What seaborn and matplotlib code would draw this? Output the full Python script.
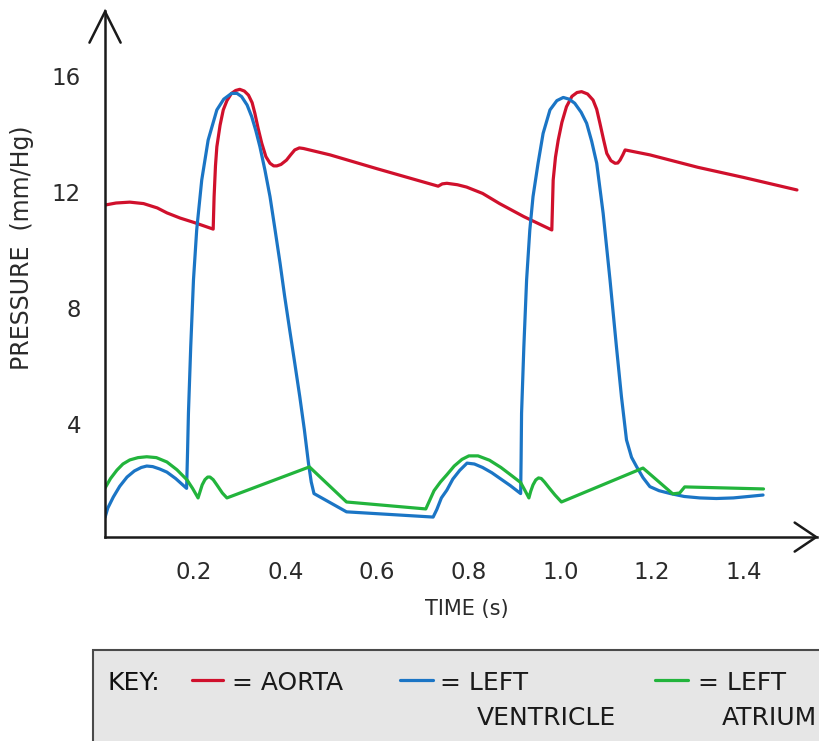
import matplotlib
matplotlib.use("Agg")
import matplotlib.pyplot as plt
import seaborn as sns
import pandas as pd
from matplotlib.patches import Rectangle
from matplotlib.lines import Line2D

# pressure curves (time in s, pressure in mm/Hg)
aorta_t = [0.006, 0.03, 0.06, 0.09, 0.12, 0.141, 0.17, 0.2, 0.242, 0.244, 0.247, 0.25,
           0.257, 0.264, 0.272, 0.282, 0.291, 0.3, 0.31, 0.319, 0.327, 0.333, 0.34, 0.348,
           0.357, 0.366, 0.374, 0.381, 0.39, 0.402, 0.411, 0.42, 0.43, 0.439, 0.497, 0.6,
           0.693, 0.733, 0.742, 0.752, 0.775, 0.795, 0.83, 0.867, 0.92, 0.981, 0.984,
           0.989, 0.995, 1.003, 1.013, 1.025, 1.036, 1.046, 1.059, 1.071, 1.079, 1.086,
           1.094, 1.101, 1.11, 1.119, 1.125, 1.13, 1.136, 1.141, 1.195, 1.3, 1.4, 1.516]
aorta_p = [11.55, 11.62, 11.65, 11.6, 11.45, 11.28, 11.1, 10.95, 10.72, 11.84, 12.9, 13.56,
           14.3, 14.83, 15.15, 15.4, 15.5, 15.54, 15.48, 15.34, 15.08, 14.71, 14.2, 13.68,
           13.22, 12.99, 12.9, 12.9, 12.95, 13.1, 13.28, 13.45, 13.52, 13.5, 13.28, 12.8,
           12.38, 12.2, 12.28, 12.3, 12.25, 12.17, 11.95, 11.6, 11.15, 10.69, 12.41,
           13.2, 13.79, 14.4, 14.94, 15.3, 15.43, 15.46, 15.38, 15.17, 14.85, 14.37,
           13.8, 13.33, 13.08, 12.99, 13.0, 13.1, 13.28, 13.45, 13.28, 12.85, 12.5, 12.07]

ventricle_t = [0.006, 0.012, 0.024, 0.038, 0.054, 0.07, 0.085, 0.097, 0.11, 0.125, 0.141,
               0.16, 0.184, 0.186, 0.188, 0.193, 0.199, 0.206, 0.217, 0.231, 0.25, 0.265,
               0.282, 0.294, 0.304, 0.316, 0.326, 0.335, 0.344, 0.355, 0.366, 0.377, 0.388,
               0.398, 0.409, 0.42, 0.431, 0.441, 0.45, 0.456, 0.462, 0.533, 0.722, 0.73,
               0.74, 0.752, 0.765, 0.78, 0.796, 0.812, 0.83, 0.85, 0.87, 0.89, 0.913, 0.914,
               0.915, 0.92, 0.926, 0.933, 0.94, 0.951, 0.962, 0.977, 0.992, 1.006, 1.019,
               1.031, 1.045, 1.057, 1.068, 1.079, 1.093, 1.108, 1.122, 1.133, 1.144, 1.155,
               1.166, 1.18, 1.195, 1.215, 1.24, 1.27, 1.304, 1.34, 1.377, 1.41, 1.442]
ventricle_p = [0.78, 1.1, 1.48, 1.85, 2.17, 2.38, 2.5, 2.55, 2.53, 2.45, 2.34,
               2.12, 1.78, 3.0, 4.37, 6.67, 8.97, 10.69, 12.41, 13.79, 14.83, 15.2,
               15.4, 15.4, 15.29, 15.0, 14.6, 14.12, 13.56, 12.75, 11.84, 10.7, 9.54,
               8.4, 7.24, 6.1, 4.94, 3.8, 2.64, 2.0, 1.6, 0.97, 0.79, 1.05,
               1.45, 1.72, 2.1, 2.4, 2.65, 2.62, 2.5, 2.32, 2.1, 1.88, 1.6, 2.8,
               4.37, 6.67, 8.97, 10.69, 11.84, 12.99, 14.02, 14.83, 15.15, 15.26, 15.2,
               15.06, 14.75, 14.37, 13.75, 12.99, 11.27, 8.97, 6.67, 4.94, 3.45, 2.85,
               2.53, 2.15, 1.84, 1.7, 1.6, 1.5, 1.45, 1.43, 1.45, 1.5, 1.55]

atrium_t = [0.006, 0.018, 0.032, 0.045, 0.06, 0.078, 0.097, 0.118, 0.141, 0.163, 0.185,
            0.197, 0.209, 0.213, 0.218, 0.224, 0.23, 0.235, 0.242, 0.25, 0.262, 0.272,
            0.452, 0.533, 0.706, 0.714, 0.724, 0.738, 0.752, 0.768, 0.785, 0.8, 0.82,
            0.845, 0.87, 0.895, 0.913, 0.922, 0.931, 0.935, 0.94, 0.946, 0.952, 0.958,
            0.965, 0.975, 0.988, 1.002, 1.18, 1.245, 1.26, 1.271, 1.443]
atrium_p = [1.79, 2.12, 2.41, 2.62, 2.76, 2.84, 2.87, 2.84, 2.69, 2.42, 2.07,
            1.78, 1.45, 1.65, 1.9, 2.08, 2.17, 2.17, 2.08, 1.9, 1.62, 1.45,
            2.52, 1.31, 1.07, 1.35, 1.7, 2.0, 2.25, 2.55, 2.78, 2.9, 2.9,
            2.75, 2.5, 2.2, 1.98, 1.72, 1.45, 1.68, 1.9, 2.07, 2.14, 2.12,
            2.0, 1.8, 1.55, 1.31, 2.48, 1.59, 1.62, 1.83, 1.76]

x_ticks = [0.2, 0.4, 0.6, 0.8, 1.0, 1.2, 1.4]
x_tick_labels = ["0.2", "0.4", "0.6", "0.8", "1.0", "1.2", "1.4"]
y_ticks = [4, 8, 12, 16]

RED = "#d0102c"
BLUE = "#1b75c5"
GREEN = "#22b43c"
INK = "#1a1a1a"

sns.set_style("white")
plt.rcParams["font.family"] = ["DejaVu Sans"]

fig = plt.figure(figsize=(8.19, 7.41), dpi=100)
ax = fig.add_axes([0.1277, 0.2752, 0.870, 0.7103])

for t, p, c in [(aorta_t, aorta_p, RED), (ventricle_t, ventricle_p, BLUE),
                (atrium_t, atrium_p, GREEN)]:
    df = pd.DataFrame({"time": t, "pressure": p})
    sns.lineplot(data=df, x="time", y="pressure", ax=ax, color=c, lw=2.3,
                 sort=False, estimator=None, solid_joinstyle="round")

ax.set_xlim(0.005, 1.56)
ax.set_ylim(0.1, 18.25)
ax.set_xticks(x_ticks)
ax.set_xticklabels(x_tick_labels)
ax.set_yticks(y_ticks)
ax.tick_params(axis="both", length=10, width=1.6, color=INK, labelsize=16.5,
               labelcolor="#2a2a2a", pad=7)

for s in ["top", "right"]:
    ax.spines[s].set_visible(False)
for s in ["left", "bottom"]:
    ax.spines[s].set_color(INK)
    ax.spines[s].set_linewidth(1.8)

# open arrow heads at the axis ends
ax.plot([-0.028, 0.006, 0.04], [17.15, 18.22, 17.15], color=INK, lw=1.8,
        clip_on=False, solid_capstyle="round", solid_joinstyle="miter")
ax.plot([1.511, 1.558, 1.511], [0.6, 0.1, -0.4], color=INK, lw=1.8,
        clip_on=False, solid_capstyle="round", solid_joinstyle="miter")

ax.set_xlabel("TIME (s)", fontsize=15, color="#2a2a2a", va="top")
ax.xaxis.set_label_coords(0.509, -0.118)
ax.set_ylabel("PRESSURE  (mm/Hg)", fontsize=17, color="#2a2a2a")
ax.yaxis.set_label_coords(-0.099, 0.549)

# key box along the bottom
fig.patches.append(Rectangle((93 / 819, -0.05), 1.0, 0.1228 + 0.05,
                             transform=fig.transFigure, facecolor="#e6e6e6",
                             edgecolor="#4a4a4a", lw=1.5))

def px(x, y):
    return x / 819, (741 - y) / 741

key_size = 18
fig.text(*px(107, 690), "KEY:", fontsize=key_size, color="#111111", va="baseline")
for x0, x1, c in [(192, 223, RED), (400, 433, BLUE), (655, 688, GREEN)]:
    (a, b), (a2, _) = px(x0, 680), px(x1, 680)
    fig.lines.append(Line2D([a, a2], [b, b], transform=fig.transFigure,
                            color=c, lw=2.3))
fig.text(*px(232, 690), "= AORTA", fontsize=key_size, color=INK, va="baseline")
fig.text(*px(440, 690), "= LEFT", fontsize=key_size, color=INK, va="baseline")
fig.text(*px(477, 725), "VENTRICLE", fontsize=key_size, color=INK, va="baseline")
fig.text(*px(698, 690), "= LEFT", fontsize=key_size, color=INK, va="baseline")
fig.text(*px(722, 725), "ATRIUM", fontsize=key_size, color=INK, va="baseline")

fig.savefig("out.png", dpi=100)
